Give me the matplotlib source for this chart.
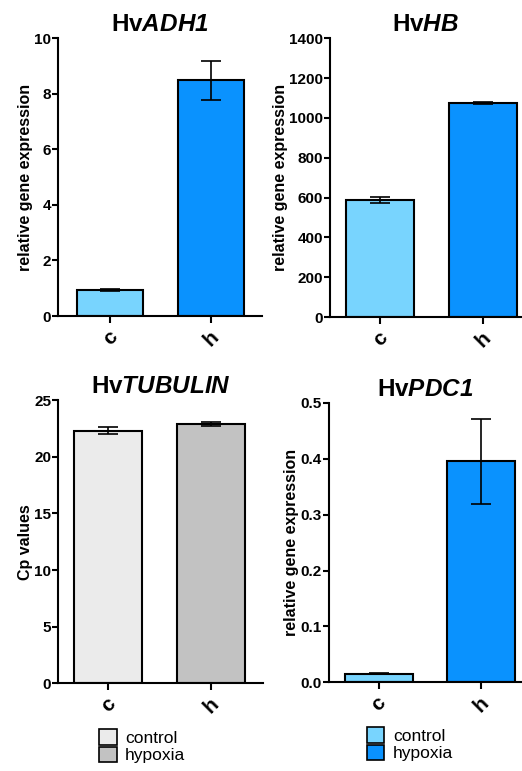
import matplotlib
matplotlib.use("Agg")
import matplotlib.pyplot as plt
from matplotlib.patches import Patch

plt.rcParams['font.family'] = ['Liberation Sans', 'DejaVu Sans']
plt.rcParams['mathtext.fontset'] = 'custom'
plt.rcParams['mathtext.it'] = 'Liberation Sans:bold:italic'
plt.rcParams['mathtext.rm'] = 'Liberation Sans:bold:italic'

categories = ['c', 'h']
legend_labels = ['control', 'hypoxia']

adh1_vals = [0.94, 8.48]
adh1_err = [0.04, 0.70]
hb_vals = [586, 1075]
hb_err = [15, 5]
tub_vals = [22.3, 22.9]
tub_err = [0.3, 0.2]
pdc1_vals = [0.0155, 0.395]
pdc1_err = [0.0008, 0.076]

blue_colors = ['#78D4FE', '#0A92FE']
gray_colors = ['#EBEBEB', '#C2C2C2']

fig = plt.figure(figsize=(5.22, 7.71), dpi=100)

panels = [
    dict(rect=[0.1111, 0.5901, 0.3908, 0.3606], gene='ADH1', vals=adh1_vals, err=adh1_err,
         ylim=(0, 10), ticks=[0, 2, 4, 6, 8, 10], ylabel='relative gene expression',
         colors=blue_colors, xlim=(-0.515, 1.505)),
    dict(rect=[0.6322, 0.5888, 0.3659, 0.3615], gene='HB', vals=hb_vals, err=hb_err,
         ylim=(0, 1400), ticks=[0, 200, 400, 600, 800, 1000, 1200, 1400],
         ylabel='relative gene expression', colors=blue_colors, xlim=(-0.49, 1.37)),
    dict(rect=[0.1111, 0.1137, 0.3927, 0.3674], gene='TUBULIN', vals=tub_vals, err=tub_err,
         ylim=(0, 25), ticks=[0, 5, 10, 15, 20, 25], ylabel='Cp values',
         colors=gray_colors, xlim=(-0.49, 1.5)),
    dict(rect=[0.6297, 0.1150, 0.3684, 0.3626], gene='PDC1', vals=pdc1_vals, err=pdc1_err,
         ylim=(0, 0.5), ticks=[0.0, 0.1, 0.2, 0.3, 0.4, 0.5], ylabel='relative gene expression',
         colors=blue_colors, xlim=(-0.49, 1.39)),
]

for p in panels:
    ax = fig.add_axes(p['rect'])
    x = list(range(len(categories)))
    ax.bar(x, p['vals'], width=0.66, color=p['colors'], edgecolor='black', linewidth=1.5, zorder=2)
    ax.errorbar(x, p['vals'], yerr=p['err'], fmt='none', ecolor='black', elinewidth=1.2,
                capsize=7.5, capthick=1.2, zorder=3)
    ax.set_xlim(*p['xlim'])
    ax.set_ylim(*p['ylim'])
    ax.set_yticks(p['ticks'])
    if p['gene'] == 'PDC1':
        ax.set_yticklabels([f'{t:.1f}' for t in p['ticks']])
    ax.set_xticks(x)
    ax.set_xticklabels(categories, rotation=45, ha='center', fontsize=15, fontweight='bold')
    for lab in ax.get_yticklabels():
        lab.set_fontweight('bold')
        lab.set_fontsize(11)
    ax.spines['top'].set_visible(False)
    ax.spines['right'].set_visible(False)
    ax.spines['left'].set_linewidth(1.5)
    ax.spines['bottom'].set_linewidth(1.5)
    ax.tick_params(axis='y', length=4, width=1.5, pad=1)
    ax.tick_params(axis='x', length=5, width=1.5, pad=3)
    ax.set_ylabel(p['ylabel'], fontsize=11.5, fontweight='bold', labelpad=1)
    ax.set_title('Hv$\\mathit{' + p['gene'] + '}$', fontsize=17.5, fontweight='bold', pad=5)

for left, top, colors in [(0.190, 0.0545, gray_colors), (0.703, 0.0570, blue_colors)]:
    handles = [Patch(facecolor=c, edgecolor='black', linewidth=1.2) for c in colors]
    fig.legend(handles, legend_labels, loc='upper left', bbox_to_anchor=(left, top),
               frameon=False, fontsize=12.5, handlelength=1.0, handleheight=1.0,
               handletextpad=0.5, labelspacing=0.05, borderaxespad=0, borderpad=0)

fig.savefig('out.png', dpi=100)
